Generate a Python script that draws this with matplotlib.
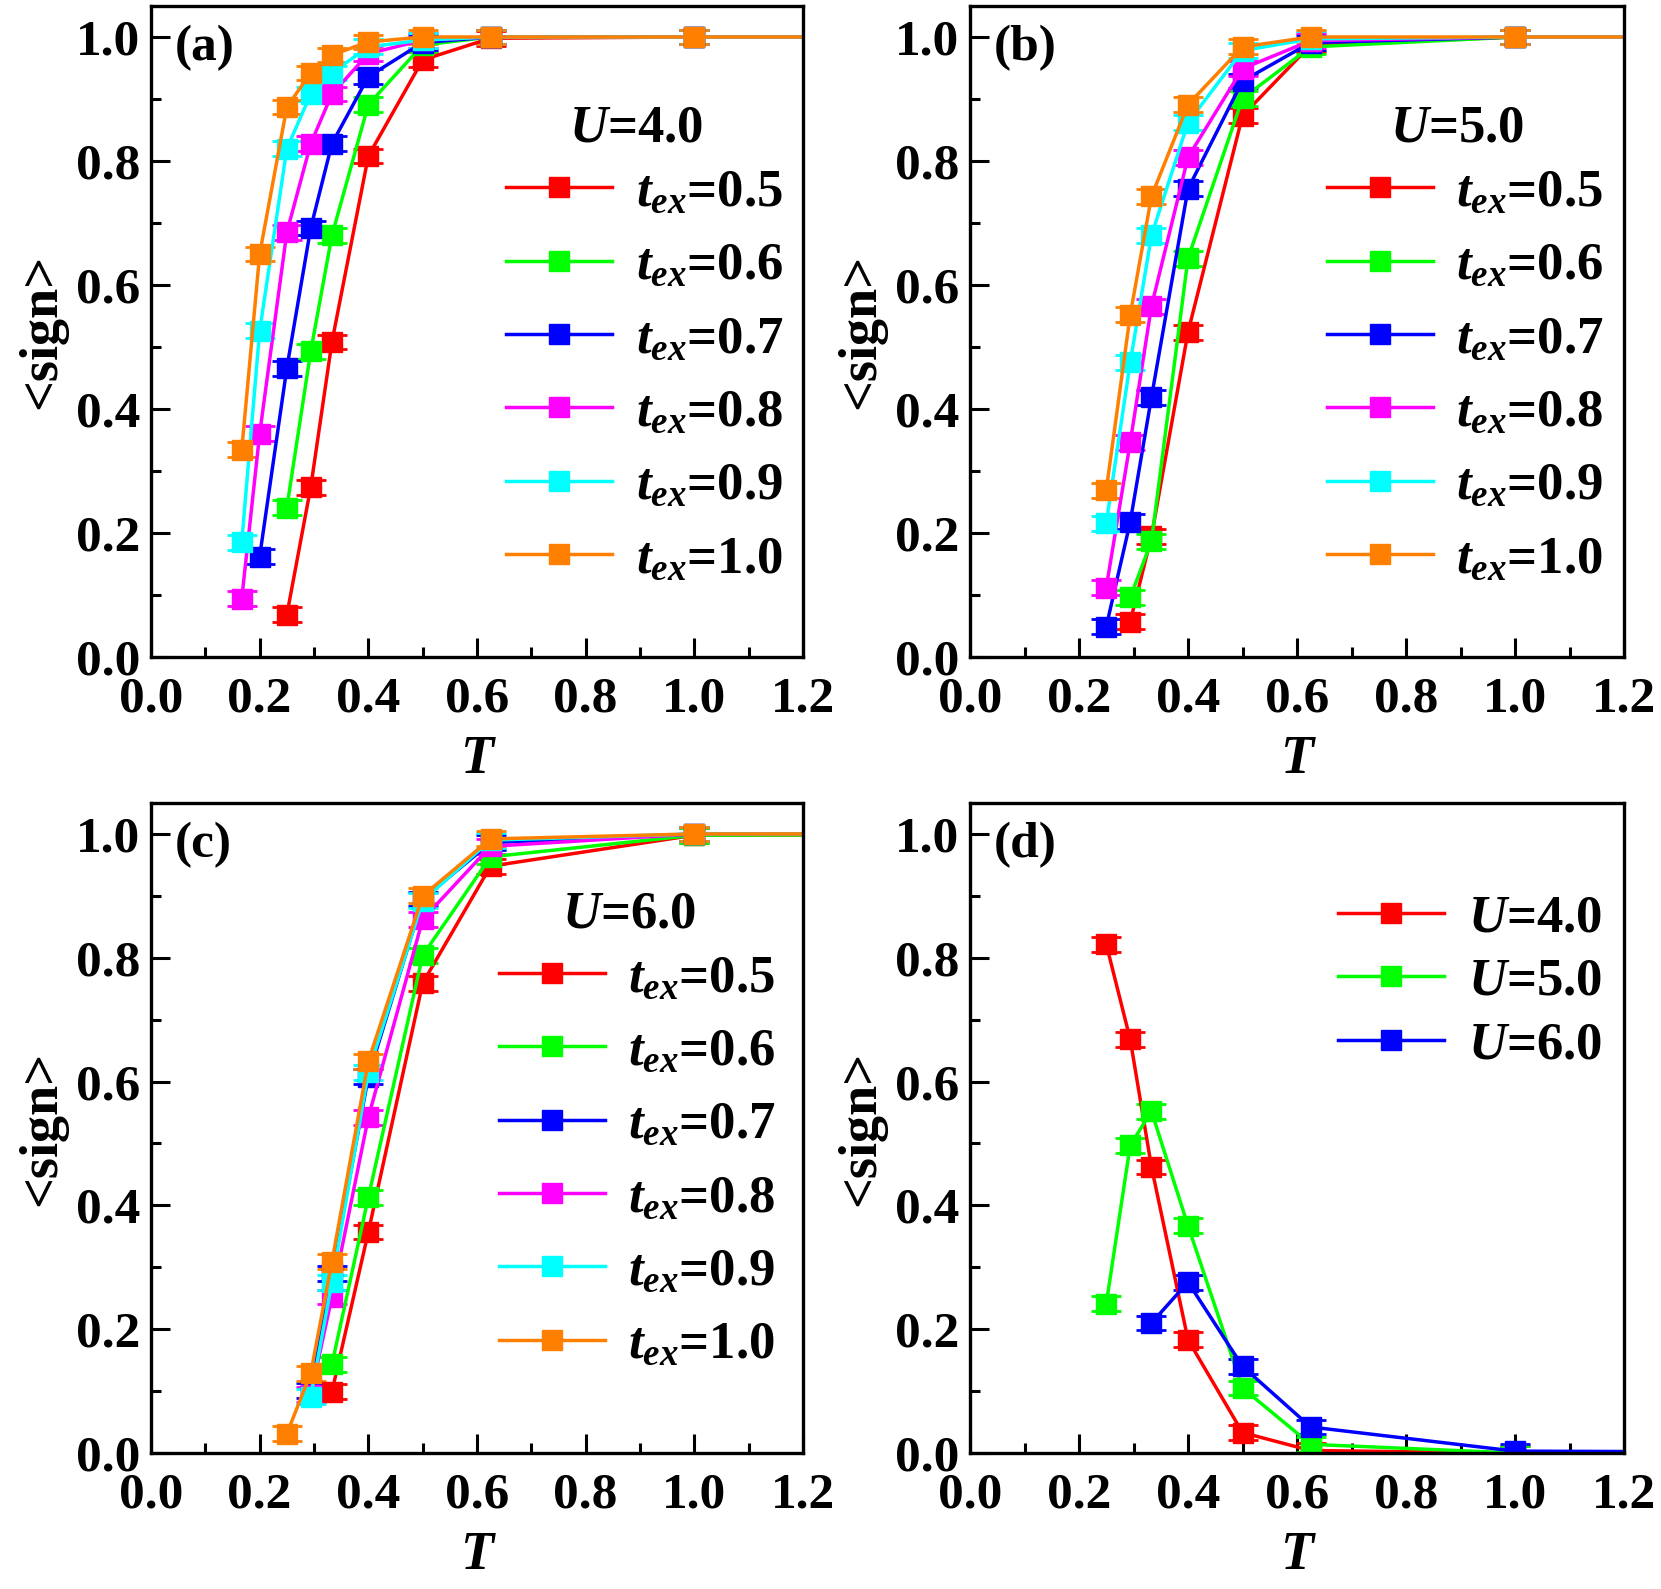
import matplotlib
matplotlib.use("Agg")
import matplotlib.pyplot as plt
from matplotlib.ticker import MultipleLocator, FormatStrFormatter

plt.rcParams['font.family'] = ['Liberation Serif', 'DejaVu Serif']
plt.rcParams['font.weight'] = 'bold'
plt.rcParams['mathtext.fontset'] = 'custom'
plt.rcParams['mathtext.rm'] = 'Liberation Serif:bold'
plt.rcParams['mathtext.it'] = 'Liberation Serif:italic:bold'
plt.rcParams['mathtext.bf'] = 'Liberation Serif:bold'

FS = 37

# --- data ---
T_a = [0.167, 0.2, 0.25, 0.294, 0.333, 0.4, 0.5, 0.625, 1.0, 2.0]
T_b = [0.25, 0.294, 0.333, 0.4, 0.5, 0.625, 1.0, 2.0]
tex_labels = ['0.5', '0.6', '0.7', '0.8', '0.9', '1.0']
colors = ['#ff0000', '#00ff00', '#0000ff', '#ff00ff', '#00ffff', '#ff8000']
err = 0.012

# panel (a), U=4.0 ; None where no point
sign_a = [
    [None, None, 0.068, 0.274, 0.508, 0.808, 0.963, 0.998, 1.0, 1.0],
    [None, None, 0.241, 0.493, 0.680, 0.891, 0.987, 1.0, 1.0, 1.0],
    [None, 0.162, 0.466, 0.692, 0.828, 0.936, 0.991, 1.0, 1.0, 1.0],
    [0.094, 0.360, 0.685, 0.828, 0.908, 0.973, 0.995, 1.0, 1.0, 1.0],
    [0.185, 0.526, 0.820, 0.908, 0.942, 0.984, 0.995, 1.0, 1.0, 1.0],
    [0.334, 0.650, 0.887, 0.942, 0.971, 0.992, 1.0, 1.0, 1.0, 1.0],
]
# panel (b), U=5.0
sign_b = [
    [None, 0.057, 0.195, 0.524, 0.873, 0.987, 1.0, 1.0],
    [None, 0.096, 0.187, 0.643, 0.901, 0.984, 1.0, 1.0],
    [0.049, 0.218, 0.419, 0.755, 0.929, 0.991, 1.0, 1.0],
    [0.112, 0.346, 0.566, 0.806, 0.949, 0.994, 1.0, 1.0],
    [0.216, 0.475, 0.680, 0.862, 0.978, 0.997, 1.0, 1.0],
    [0.269, 0.552, 0.743, 0.891, 0.984, 1.0, 1.0, 1.0],
]
# panel (c), U=6.0
sign_c = [
    [None, None, 0.099, 0.357, 0.759, 0.948, 0.998, 1.0],
    [None, None, 0.143, 0.413, 0.804, 0.963, 0.998, 1.0],
    [None, 0.101, 0.290, 0.608, 0.895, 0.986, 1.0, 1.0],
    [None, 0.094, 0.252, 0.542, 0.862, 0.980, 1.0, 1.0],
    [None, 0.091, 0.276, 0.615, 0.892, 0.990, 1.0, 1.0],
    [0.031, 0.129, 0.309, 0.633, 0.900, 0.992, 1.0, 1.0],
]
# panel (d), t_ex fixed, different U
U_labels = ['4.0', '5.0', '6.0']
sign_d = [
    [0.822, 0.668, 0.462, 0.183, 0.033, 0.004, 0.0, 0.0],
    [0.241, 0.497, 0.552, 0.367, 0.105, 0.014, 0.0, 0.0],
    [None, None, 0.210, 0.276, 0.140, 0.042, 0.003, 0.0],
]

W, H = 1661, 1589
fig = plt.figure(figsize=(W / 100, H / 100), dpi=100)


def make_ax(left, top, w=652, h=651):
    return fig.add_axes([left / W, (H - top - h) / H, w / W, h / H])


def style(ax, tag):
    ax.set_xlim(0, 1.2)
    ax.set_ylim(0, 1.05)
    ax.xaxis.set_major_locator(MultipleLocator(0.2))
    ax.xaxis.set_minor_locator(MultipleLocator(0.1))
    ax.yaxis.set_major_locator(MultipleLocator(0.2))
    ax.yaxis.set_minor_locator(MultipleLocator(0.1))
    ax.xaxis.set_major_formatter(FormatStrFormatter('%.1f'))
    ax.yaxis.set_major_formatter(FormatStrFormatter('%.1f'))
    ax.tick_params(which='both', direction='in', width=2.2, labelsize=FS)
    ax.tick_params(axis='x', pad=14)
    ax.tick_params(axis='y', pad=8)
    ax.tick_params(which='major', length=14)
    ax.tick_params(which='minor', length=7)
    for s in ax.spines.values():
        s.set_linewidth(2.4)
    ax.set_xlabel('T', fontsize=FS + 2, style='italic', fontweight='bold', labelpad=9)
    ax.set_ylabel('<sign>', fontsize=FS + 2, fontweight='bold', labelpad=6)
    ax.text(0.037, 0.935, tag, transform=ax.transAxes, fontsize=FS,
            fontweight='bold', ha='left', va='center')


def draw(ax, T, data, cols):
    handles = []
    for ys, c in zip(data, cols):
        xs = [t for t, y in zip(T, ys) if y is not None]
        yv = [y for y in ys if y is not None]
        eb = ax.errorbar(xs, yv, yerr=err, color=c, marker='s', markersize=15,
                         lw=2.5, capsize=11, capthick=2, elinewidth=2)
        handles.append(eb.lines[0])
    return handles


def add_legend(ax, handles, labels, x, y, spacing):
    return ax.legend(handles, labels, loc='upper left',
                     bbox_to_anchor=(x, y), frameon=False, fontsize=FS + 1,
                     handlelength=2.0, handletextpad=0.45,
                     labelspacing=spacing, borderpad=0, borderaxespad=0)


def add_title(ax, text, x, y):
    ax.text(x, y, text, transform=ax.transAxes, fontsize=FS + 1,
            fontweight='bold', ha='center', va='center')


tex_text = [r'$t_{ex}$=' + v for v in tex_labels]

ax_a = make_ax(151, 6)
h = draw(ax_a, T_a, sign_a, colors)
style(ax_a, '(a)')
add_legend(ax_a, h, tex_text, 0.545, 0.750, 0.48)
add_title(ax_a, r'$U$=4.0', 0.744, 0.812)

ax_b = make_ax(970, 6, w=654)
h = draw(ax_b, T_b, sign_b, colors)
style(ax_b, '(b)')
add_legend(ax_b, h, tex_text, 0.546, 0.750, 0.48)
add_title(ax_b, r'$U$=5.0', 0.745, 0.812)

ax_c = make_ax(151, 803, h=650)
h = draw(ax_c, T_b, sign_c, colors)
style(ax_c, '(c)')
add_legend(ax_c, h, tex_text, 0.534, 0.767, 0.48)
add_title(ax_c, r'$U$=6.0', 0.733, 0.829)

ax_d = make_ax(970, 803, w=654, h=650)
h = draw(ax_d, T_a[2:], sign_d, colors[:3])
style(ax_d, '(d)')
add_legend(ax_d, h, [r'$U$=' + u for u in U_labels], 0.563, 0.86, 0.3)

fig.savefig('out.png', dpi=100)
